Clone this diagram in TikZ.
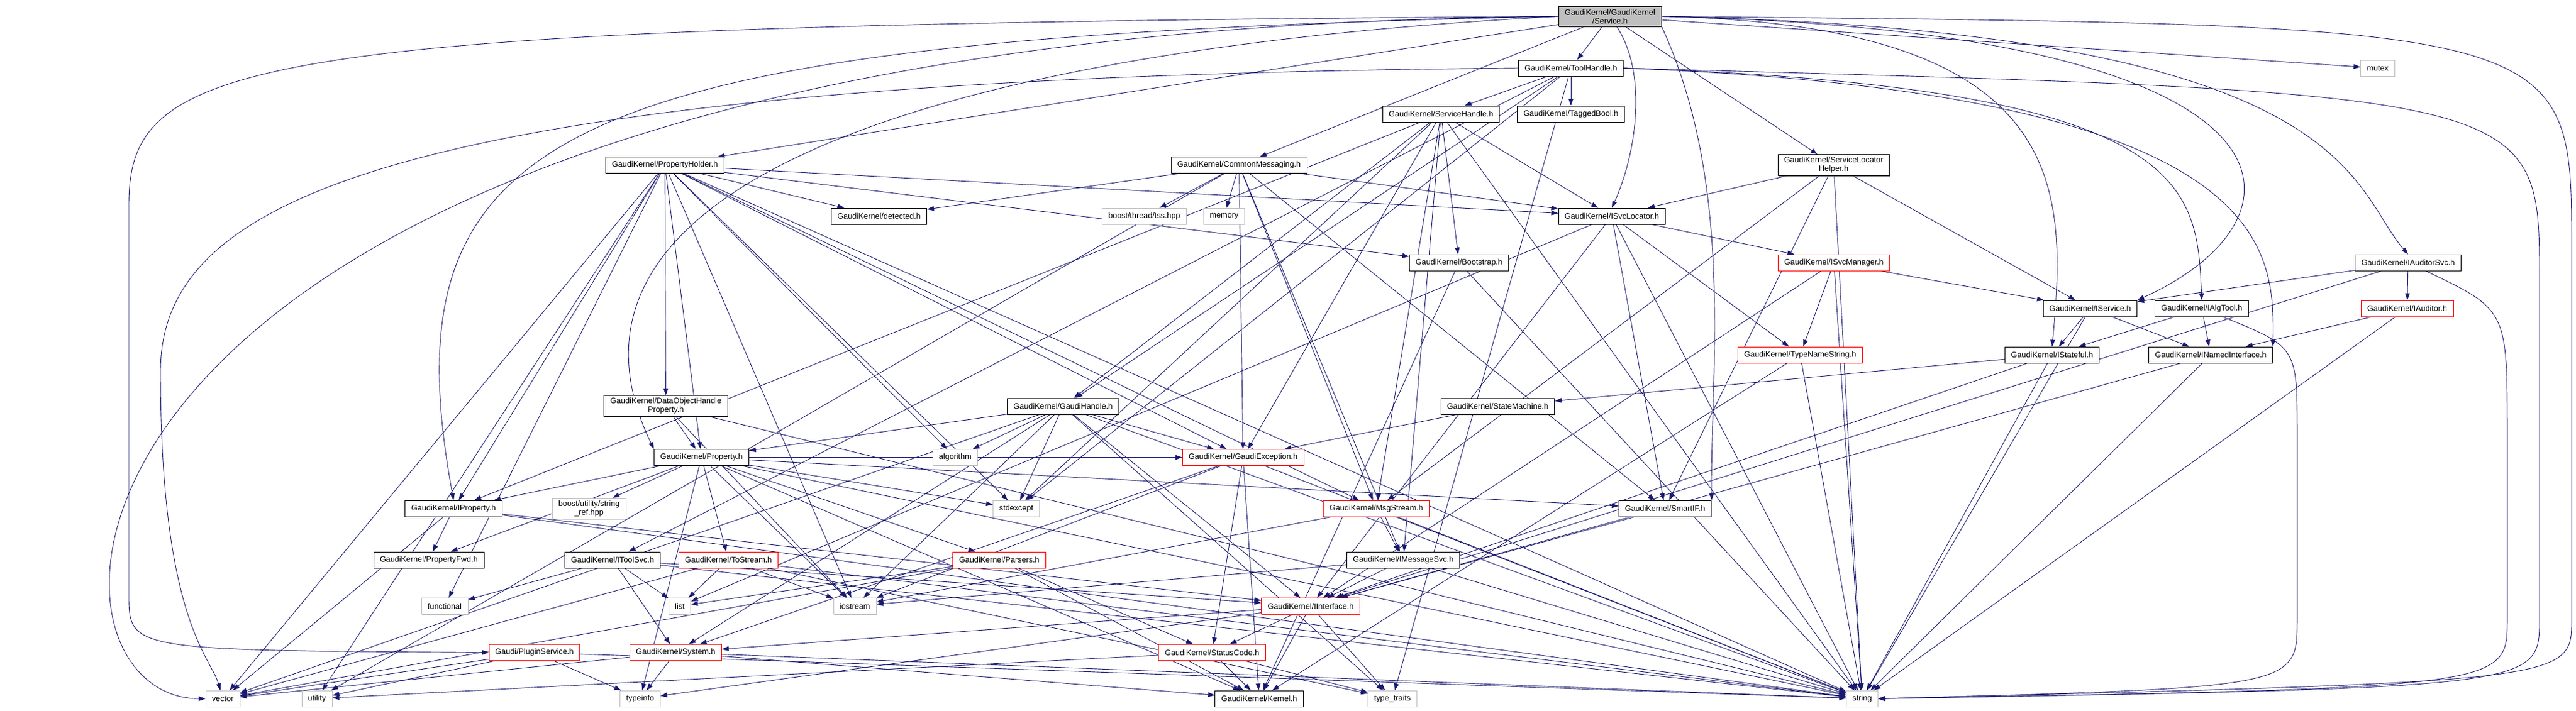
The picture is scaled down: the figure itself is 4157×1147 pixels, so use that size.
\documentclass[tikz,border=0pt]{standalone}
\usepackage{fontspec}
\setmainfont{Liberation Sans}
\usetikzlibrary{arrows.meta,shadows}
\definecolor{edgeblue}{HTML}{191970}
\definecolor{filegray}{HTML}{BFBFBF}
\pgfdeclarelayer{back}
\pgfsetlayers{back,main}

\begin{document}
\begin{tikzpicture}[x=0.5pt,y=-0.5pt]
	\tikzstyle{box}=[fill=white,font=\fontsize{6.4}{7}\selectfont,inner xsep=5pt,inner ysep=2pt,minimum height=13pt,align=center]
	\tikzstyle{file}=[box,draw=black,drop shadow={shadow xshift=0.3pt,shadow yshift=-0.7pt,fill=black!70,opacity=0.9}]
	\tikzstyle{trunc}=[box,draw=red,drop shadow={shadow xshift=0.3pt,shadow yshift=-0.7pt,fill=red!70,opacity=0.9}]
	\tikzstyle{sysfile}=[box,draw=filegray,drop shadow={shadow xshift=0.3pt,shadow yshift=-0.7pt,fill=filegray,opacity=0.9}]
	\tikzstyle{dep}=[color=edgeblue,line width=0.45pt,-{Triangle[length=5.5pt,width=3.8pt]}]
	\useasboundingbox (0,0) rectangle (4157,1147);

	\node[file,fill=filegray](svc) at (2598,26.5){GaudiKernel/GaudiKernel\\/Service.h};
	\node[file](toolh) at (2535,110){GaudiKernel/ToolHandle.h};
	\node[sysfile](mutex) at (3837,110){mutex};
	\node[file](svch) at (2325.5,184){GaudiKernel/ServiceHandle.h};
	\node[file](tagb) at (2535,184){GaudiKernel/TaggedBool.h};
	\node[file](ph) at (1073,266.5){GaudiKernel/PropertyHolder.h};
	\node[file](cm) at (1999.5,266.5){GaudiKernel/CommonMessaging.h};
	\node[file](slh) at (2959,266.5){GaudiKernel/ServiceLocator\\Helper.h};
	\node[file](det) at (1418.5,349){GaudiKernel/detected.h};
	\node[sysfile](tss) at (1846.5,349){boost/thread/tss.hpp};
	\node[sysfile](memory) at (1975.5,349){memory};
	\node[file](isl) at (2601,349){GaudiKernel/ISvcLocator.h};
	\node[file](boot) at (2354.5,424){GaudiKernel/Bootstrap.h};
	\node[trunc](ism) at (2959.5,424){GaudiKernel/ISvcManager.h};
	\node[file](ias) at (3886,424){GaudiKernel/IAuditorSvc.h};
	\node[file](isv) at (3373,498){GaudiKernel/IService.h};
	\node[file](iat) at (3553,498){GaudiKernel/IAlgTool.h};
	\node[trunc](iau) at (3884.5,498){GaudiKernel/IAuditor.h};
	\node[trunc](tns) at (2905,573){GaudiKernel/TypeNameString.h};
	\node[file](ist) at (3311.5,573){GaudiKernel/IStateful.h};
	\node[file](ini) at (3567.5,573){GaudiKernel/INamedInterface.h};
	\node[file](dohp) at (1074.5,655.5){GaudiKernel/DataObjectHandle\\Property.h};
	\node[file](gh) at (1715.5,656){GaudiKernel/GaudiHandle.h};
	\node[file](smach) at (2417,656){GaudiKernel/StateMachine.h};
	\node[file](prop) at (1132,738.5){GaudiKernel/Property.h};
	\node[sysfile](alg) at (1541.5,738.5){algorithm};
	\node[trunc](gex) at (2006,738.5){GaudiKernel/GaudiException.h};
	\node[file](iprop) at (732,821){GaudiKernel/IProperty.h};
	\node[sysfile](sref) at (950.5,821){boost/utility/string\\\_ref.hpp};
	\node[sysfile](stdex) at (1640,821){stdexcept};
	\node[trunc](msg) at (2221,821){GaudiKernel/MsgStream.h};
	\node[file](sif) at (2687,821){GaudiKernel/SmartIF.h};
	\node[file](pfwd) at (692,904){GaudiKernel/PropertyFwd.h};
	\node[file](its) at (988.5,904){GaudiKernel/IToolSvc.h};
	\node[trunc](tos) at (1175.5,904){GaudiKernel/ToStream.h};
	\node[trunc](pars) at (1612.5,904){GaudiKernel/Parsers.h};
	\node[file](ims) at (2264.5,904){GaudiKernel/IMessageSvc.h};
	\node[sysfile](func) at (717.5,978.5){functional};
	\node[sysfile](list) at (1097,978.5){list};
	\node[sysfile](ios) at (1379.5,978.5){iostream};
	\node[trunc](iint) at (2115,978.5){GaudiKernel/IInterface.h};
	\node[trunc](plug) at (862.5,1053.5){Gaudi/PluginService.h};
	\node[trunc](sys) at (1090.5,1053.5){GaudiKernel/System.h};
	\node[trunc](sc) at (1956,1053.5){GaudiKernel/StatusCode.h};
	\node[sysfile](vec) at (359.5,1128){vector};
	\node[sysfile](util) at (511.5,1128){utility};
	\node[sysfile](tinfo) at (1033,1128){typeinfo};
	\node[file](kern) at (2032,1128){GaudiKernel/Kernel.h};
	\node[sysfile](tt) at (2247,1128){type\_traits};
	\node[sysfile](str) at (3005,1128){string};

	\begin{pgfonlayer}{back}
	% long ones round the sides
	\draw[dep] (svc.west) .. controls (0,46) and (5,1128) .. (vec.west);
	\draw[dep] (svc.west) .. controls (400,40) and (208,90) .. (208,330) -- (208,960) .. controls (208,1050) .. (plug.west);
	\draw[dep] (toolh.west) .. controls (600,125) and (259,330) .. (259,600) .. controls (259,1000) and (340,1060) .. (vec);
	\draw[dep] (svc.east) .. controls (4150,40) .. (4150,400) -- (4150,1000) .. controls (4150,1100) .. (str.east);
	\draw[dep] (toolh.east) .. controls (4098,150) .. (4098,450) -- (4098,1000) .. controls (4098,1110) .. (str.east);
	\draw[dep] (ias) .. controls (4046,500) .. (4046,700) -- (4046,1000) .. controls (4046,1110) .. (str.east);
	\draw[dep] (iat) .. controls (3707,560) .. (3707,700) -- (3707,1000) .. controls (3707,1110) .. (str.east);
	% bent ones from the top
	\draw[dep] (svc.west) .. controls (900,60) and (620,200) .. (iprop.north);
	\draw[dep] (svc.west) .. controls (1500,80) and (850,300) .. (prop.north west);
	\draw[dep] (svc.east) .. controls (3340,40) and (3336,300) .. (ist.north);
	\draw[dep] (svc.east) .. controls (3746,50) and (3746,350) .. (isv.north east);
	\draw[dep] (svc.east) .. controls (3800,50) and (3790,300) .. (ias.north);
	\draw[dep] (svc.south east) .. controls (2800,300) and (2760,600) .. (sif.north east);
	\draw[dep] (svc) .. controls (2660,120) and (2640,250) .. (isl.north);
	\draw[dep] (toolh.east) .. controls (3540,140) and (3545,300) .. (iat.north);
	\draw[dep] (toolh.east) .. controls (3670,150) and (3670,400) .. (ini.north east);

	\path[dep]
		(svc) edge (toolh)
		(svc) edge (cm)
		(svc) edge (ph)
		(svc) edge (slh)
		(svc) edge (mutex)
		(toolh) edge (svch)
		(toolh) edge (tagb)
		(toolh) edge (gh)
		(toolh) edge (its)
		(toolh) edge (tt)
		(toolh) edge (stdex)
		(svch) edge (gh)
		(svch) edge (isl)
		(svch) edge (boot)
		(svch) edge (gex)
		(svch) edge (msg)
		(svch) edge (ims)
		(svch) edge (iprop)
		(svch) edge (str)
		(svch) edge (stdex)
		(cm) edge (det)
		(cm) edge (tss)
		(cm) edge (memory)
		(cm) edge (isl)
		(cm) edge (gex)
		(cm) edge (msg)
		(cm) edge (ims)
		(cm) edge (sif)
		(cm) edge (util)
		(ph) edge (det)
		(ph) edge (isl)
		(ph) edge (boot)
		(ph) edge (dohp)
		(ph) edge (prop)
		(ph) edge (iprop)
		(ph) edge (alg)
		(ph) edge (stdex)
		(ph) edge (vec)
		(ph) edge (util)
		(ph) edge (func)
		(ph) edge (ios)
		(ph) edge (str)
		(ph) edge (msg)
		(ph) edge (gex)
		(slh) edge (isl)
		(slh) edge (isv)
		(slh) edge (msg)
		(slh) edge (sif)
		(slh) edge (str)
		(isl) edge (ism)
		(isl) edge (tns)
		(isl) edge (sif)
		(isl) edge (iint)
		(isl) edge (str)
		(isl) edge (list)
		(boot) edge (kern)
		(boot) edge (str)
		(ism) edge (isv)
		(ism) edge (tns)
		(ism) edge (iint)
		(ism) edge (str)
		(ias) edge (isv)
		(ias) edge (iau)
		(ias) edge (iint)
		(isv) edge (ist)
		(isv) edge (ini)
		(isv) edge (str)
		(iat) edge (ist)
		(iat) edge (ini)
		(iau) edge (ini)
		(iau) edge (str)
		(tns) edge (str)
		(tns) edge (kern)
		(ist) edge (smach)
		(ist) edge (iint)
		(ist) edge (str)
		(ini) edge (iint)
		(ini) edge (str)
		(dohp) edge (prop)
		(dohp) edge (ios)
		(dohp) edge (str)
		(gh) edge (alg)
		(gh) edge (stdex)
		(gh) edge (gex)
		(gh) edge (prop)
		(gh) edge (vec)
		(gh) edge (sys)
		(gh) edge (iint)
		(gh) edge (tt)
		(gh) edge (str)
		(gh) edge (ios)
		(smach) edge (gex)
		(prop) edge (iprop)
		(prop) edge (sref)
		(prop) edge (pfwd)
		(prop) edge (tos)
		(prop) edge (tinfo)
		(prop) edge (pars)
		(prop) edge (sif)
		(prop) edge (gex)
		(prop) edge (stdex)
		(prop) edge (str)
		(prop) edge (kern)
		(prop) edge (ios)
		(iprop) edge (pfwd)
		(iprop) edge (vec)
		(iprop) edge (iint)
		(iprop) edge (str)
		(gex) edge (sc)
		(gex) edge (kern)
		(gex) edge (sys)
		(gex) edge (str)
		(gex) edge (ios)
		(msg) edge (ims)
		(msg) edge (str)
		(msg) edge (ios)
		(sif) edge (iint)
		(its) edge (func)
		(its) edge (list)
		(its) edge (sys)
		(its) edge (iint)
		(its) edge (str)
		(tos) edge (list)
		(tos) edge (ios)
		(tos) edge (vec)
		(tos) edge (str)
		(tos) edge (tt)
		(pars) edge (list)
		(pars) edge (vec)
		(pars) edge (sc)
		(pars) edge (kern)
		(ims) edge (iint)
		(ims) edge (ios)
		(ims) edge (str)
		(iint) edge (sc)
		(iint) edge (kern)
		(iint) edge (sys)
		(iint) edge (tt)
		(iint) edge (tinfo)
		(sc) edge (kern)
		(sc) edge (tt)
		(sc) edge (util)
		(sys) edge (tinfo)
		(sys) edge (vec)
		(sys) edge (kern)
		(sys) edge (str)
		(plug) edge (util)
		(plug) edge (vec)
		(plug) edge (tinfo)
		(plug) edge (str);
	\end{pgfonlayer}
\end{tikzpicture}
\end{document}
